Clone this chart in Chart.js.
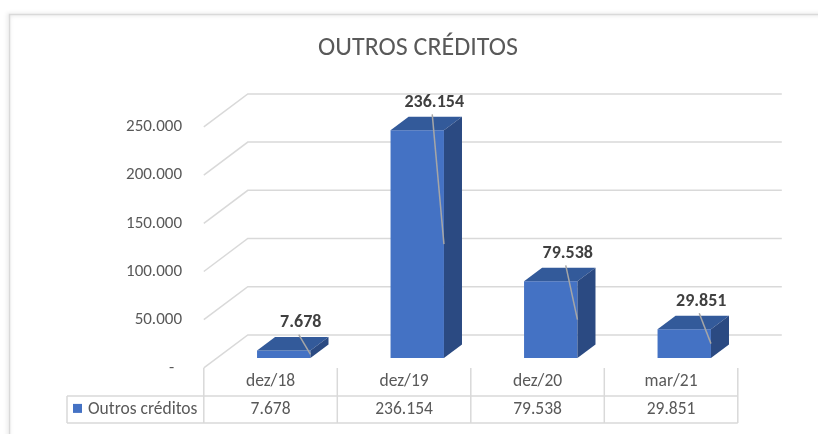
<!DOCTYPE html>
<html>
<head>
<meta charset="utf-8">
<script src="https://cdn.jsdelivr.net/npm/chart.js@4.4.1/dist/chart.umd.min.js"></script>
<style>
  html, body { margin: 0; padding: 0; background: #fff; }
  #wrap { position: relative; width: 818px; height: 434px; }
</style>
</head>
<body>
<div id="wrap"><canvas id="chart" width="818" height="434"></canvas></div>
<script>
// data
var categories = ['dez/18', 'dez/19', 'dez/20', 'mar/21'];
var seriesName = 'Outros créditos';
var seriesValues = [7678, 236154, 79538, 29851];
var yTicks = [0, 50000, 100000, 150000, 200000, 250000];

// look
var FONT = 'Carlito, Calibri, Lato, sans-serif';
var TEXT = '#595959';
var GRID = '#d9d9d9';
var DEPTH = { x: 44, y: -33 };      // full floor depth
var BAR_FRONT = 0.30, BAR_BACK = 0.71;

function fmt(v) {
    if (v === 0) return '-';
    return String(v).replace(/\B(?=(\d{3})+(?!\d))/g, '.');
}

/**
 * White background and the outer chart border.
 */
var framePlugin = {
    id: 'frame',
    beforeDraw: function(chart) {
        var ctx = chart.ctx;
        ctx.save();
        ctx.fillStyle = '#fff';
        ctx.fillRect(0, 0, chart.width, chart.height);
        ctx.shadowColor = 'rgba(0,0,0,0.18)';
        ctx.shadowBlur = 4;
        ctx.shadowOffsetX = -1;
        ctx.strokeStyle = '#d9d9d9';
        ctx.lineWidth = 1.5;
        ctx.beginPath();
        ctx.moveTo(9.5, chart.height + 5);
        ctx.lineTo(9.5, 14.5);
        ctx.lineTo(chart.width + 5, 14.5);
        ctx.stroke();
        ctx.restore();
    }
};

/**
 * Floor edge and back wall grid lines (3D look).
 */
var wallsPlugin = {
    id: 'walls',
    beforeDatasetsDraw: function(chart) {
        var ctx = chart.ctx, area = chart.chartArea, y = chart.scales.y;
        var fx = -BAR_FRONT * DEPTH.x, fy = -BAR_FRONT * DEPTH.y;
        var bx = (1 - BAR_FRONT) * DEPTH.x, by = (1 - BAR_FRONT) * DEPTH.y;
        ctx.save();
        ctx.strokeStyle = GRID;
        ctx.lineWidth = 1.5;
        y.ticks.forEach(function(t) {
            var py = y.getPixelForValue(t.value);
            ctx.beginPath();
            ctx.moveTo(area.left + fx, py + fy);
            ctx.lineTo(area.left + bx, py + by);
            ctx.lineTo(area.right + bx, py + by);
            ctx.stroke();
        });
        ctx.restore();
    }
};

/**
 * Top and side faces of the bars, data labels with leader lines.
 */
var bars3dPlugin = {
    id: 'bars3d',
    afterDatasetsDraw: function(chart) {
        var ctx = chart.ctx;
        var meta = chart.getDatasetMeta(0);
        var dx = (BAR_BACK - BAR_FRONT) * DEPTH.x, dy = (BAR_BACK - BAR_FRONT) * DEPTH.y;
        ctx.save();
        meta.data.forEach(function(bar, i) {
            var p = bar.getProps(['x', 'y', 'base', 'width'], true);
            var l = p.x - p.width / 2, r = p.x + p.width / 2;

            ctx.fillStyle = '#335a9a';
            ctx.beginPath();
            ctx.moveTo(l, p.y);
            ctx.lineTo(r, p.y);
            ctx.lineTo(r + dx, p.y + dy);
            ctx.lineTo(l + dx, p.y + dy);
            ctx.closePath();
            ctx.fill();

            ctx.fillStyle = '#2b4a82';
            ctx.beginPath();
            ctx.moveTo(r, p.y);
            ctx.lineTo(r + dx, p.y + dy);
            ctx.lineTo(r + dx, p.base + dy);
            ctx.lineTo(r, p.base);
            ctx.closePath();
            ctx.fill();

            var lx = p.x + 17, ly = p.y - 28;
            ctx.strokeStyle = '#a6a6a6';
            ctx.lineWidth = 1.5;
            ctx.beginPath();
            ctx.moveTo(lx - 2, ly + 12);
            ctx.lineTo(r, (p.y + p.base) / 2);
            ctx.stroke();

            ctx.fillStyle = '#404040';
            ctx.font = 'bold 18px ' + FONT;
            ctx.textAlign = 'center';
            ctx.textBaseline = 'middle';
            ctx.fillText(fmt(seriesValues[i]), lx, ly);
        });
        ctx.restore();
    }
};

/**
 * Data table under the chart.
 */
var tablePlugin = {
    id: 'datatable',
    afterDraw: function(chart) {
        var ctx = chart.ctx, area = chart.chartArea, x = chart.scales.x, y = chart.scales.y;
        var fx = -BAR_FRONT * DEPTH.x, fy = -BAR_FRONT * DEPTH.y;
        var colW = (area.right - area.left) / categories.length;
        var top = y.getPixelForValue(0) + fy;
        var mid = top + 28, bottom = mid + 27;
        var tableLeft = 67;
        var colX = function(i) { return x.getPixelForValue(i) + fx; };
        var edge = function(i) { return area.left + fx + i * colW; };

        ctx.save();
        ctx.strokeStyle = GRID;
        ctx.lineWidth = 1.5;
        ctx.beginPath();
        for (var i = 0; i <= categories.length; i++) {
            ctx.moveTo(edge(i), top);
            ctx.lineTo(edge(i), bottom);
        }
        ctx.moveTo(tableLeft, mid);
        ctx.lineTo(edge(categories.length), mid);
        ctx.moveTo(tableLeft, bottom);
        ctx.lineTo(edge(categories.length), bottom);
        ctx.moveTo(tableLeft, mid);
        ctx.lineTo(tableLeft, bottom);
        ctx.stroke();

        ctx.fillStyle = TEXT;
        ctx.font = '17.5px ' + FONT;
        ctx.textAlign = 'center';
        ctx.textBaseline = 'middle';
        categories.forEach(function(c, i) {
            ctx.fillText(c, colX(i), top + 14);
            ctx.fillText(fmt(seriesValues[i]), colX(i), mid + 13.5);
        });

        ctx.fillStyle = '#4472c4';
        ctx.fillRect(tableLeft + 6, mid + 8, 9, 9);
        ctx.fillStyle = TEXT;
        ctx.textAlign = 'left';
        ctx.fillText(seriesName, tableLeft + 21, mid + 13.5);
        ctx.restore();
    }
};

new Chart(document.getElementById('chart').getContext('2d'), {
    type: 'bar',
    data: {
        labels: categories,
        datasets: [{
            label: seriesName,
            data: seriesValues,
            backgroundColor: '#4472c4',
            borderWidth: 0,
            barPercentage: 0.4,
            categoryPercentage: 1.0
        }]
    },
    options: {
        responsive: false,
        animation: false,
        devicePixelRatio: 1,
        layout: { padding: { left: 85, right: 67, top: 0, bottom: 76 } },
        plugins: {
            legend: { display: false },
            tooltip: { enabled: false },
            title: {
                display: true,
                text: 'OUTROS CRÉDITOS',
                color: TEXT,
                font: { family: FONT, size: 26, weight: 'normal' },
                padding: { top: 32.4, bottom: 53.4 }
            }
        },
        scales: {
            x: { display: false },
            y: {
                min: 0,
                max: 250000,
                afterBuildTicks: function(scale) {
                    scale.ticks = yTicks.map(function(v) { return { value: v }; });
                },
                afterFit: function(scale) { scale.width = 132; },
                grid: { display: false, drawTicks: false },
                border: { display: false },
                ticks: {
                    padding: 35,
                    labelOffset: -BAR_FRONT * DEPTH.y,
                    color: TEXT,
                    font: { family: FONT, size: 17 },
                    // accounting style: the zero dash sits a little left
                    callback: function(v) { return v === 0 ? '-  ' : fmt(v); }
                }
            }
        }
    },
    plugins: [framePlugin, wallsPlugin, bars3dPlugin, tablePlugin]
});
</script>
</body>
</html>
